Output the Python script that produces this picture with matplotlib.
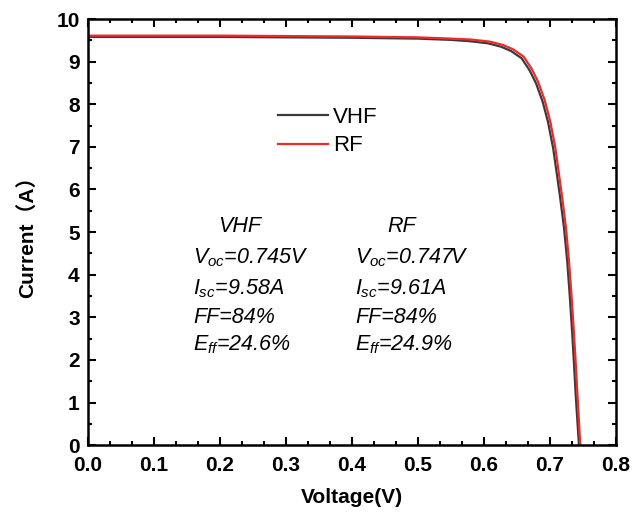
import matplotlib
matplotlib.use("Agg")
import matplotlib.pyplot as plt
from matplotlib.ticker import MultipleLocator, AutoMinorLocator, FormatStrFormatter

plt.rcParams['font.family'] = ['Liberation Sans', 'Noto Sans CJK SC', 'DejaVu Sans']
plt.rcParams['mathtext.fontset'] = 'custom'
plt.rcParams['mathtext.it'] = 'Liberation Sans:italic'
plt.rcParams['mathtext.rm'] = 'Liberation Sans:italic'

# Data
v_vhf = [0.0, 0.1, 0.2, 0.3, 0.4, 0.5, 0.55, 0.578, 0.606, 0.626, 0.641, 0.657, 0.669,
         0.679, 0.689, 0.697, 0.705, 0.715, 0.7215, 0.7263, 0.730, 0.7333, 0.7363, 0.7391, 0.744]
i_vhf = [9.58, 9.58, 9.58, 9.57, 9.56, 9.54, 9.51, 9.48, 9.43, 9.35, 9.25, 9.08, 8.80,
         8.49, 8.06, 7.59, 6.96, 5.87, 5.08, 4.30, 3.52, 2.74, 1.96, 1.17, 0.0]
v_rf = [0.0, 0.1, 0.2, 0.3, 0.4, 0.5, 0.55, 0.579, 0.609, 0.629, 0.644, 0.660, 0.672,
        0.682, 0.692, 0.700, 0.708, 0.7177, 0.7242, 0.7288, 0.7325, 0.7358, 0.7388, 0.7416, 0.746]
i_rf = [9.61, 9.61, 9.61, 9.60, 9.59, 9.57, 9.54, 9.52, 9.47, 9.39, 9.29, 9.12, 8.84,
        8.53, 8.10, 7.63, 7.00, 5.91, 5.12, 4.34, 3.56, 2.78, 2.00, 1.21, 0.0]

series_names = ["VHF", "RF"]
series_colors = ["#3a3a3a", "#ee2a2a"]

vhf_text = ["VHF", r"$V_{oc}$=0.745V", r"$I_{sc}$=9.58A", "FF=84%", r"$E_{ff}$=24.6%"]
rf_text = ["RF", r"$V_{oc}$=0.747V", r"$I_{sc}$=9.61A", "FF=84%", r"$E_{ff}$=24.9%"]

fig = plt.figure(figsize=(6.33, 5.14), dpi=100)
ax = fig.add_axes([0.139, 0.134, 0.834, 0.829])

ax.plot(v_vhf, i_vhf, color=series_colors[0], lw=1.6, label=series_names[0],
        solid_joinstyle='round')
ax.plot(v_rf, i_rf, color=series_colors[1], lw=1.6, label=series_names[1],
        solid_joinstyle='round')

ax.set_xlim(0, 0.8)
ax.set_ylim(0, 10)
ax.xaxis.set_major_locator(MultipleLocator(0.1))
ax.xaxis.set_minor_locator(AutoMinorLocator(3))
ax.yaxis.set_major_locator(MultipleLocator(1))
ax.yaxis.set_minor_locator(AutoMinorLocator(2))
ax.xaxis.set_major_formatter(FormatStrFormatter('%.1f'))
ax.yaxis.set_major_formatter(FormatStrFormatter('%d'))
ax.tick_params(which='both', direction='in', top=True, right=True, width=1.5)
ax.tick_params(which='major', length=6, labelsize=15)
ax.tick_params(axis='x', which='major', pad=8)
ax.tick_params(axis='y', which='major', pad=6)
ax.tick_params(which='minor', length=3)
for lab in ax.get_xticklabels() + ax.get_yticklabels():
    lab.set_fontweight('bold')
for s in ax.spines.values():
    s.set_linewidth(1.8)

ax.set_xlabel("Voltage(V)", fontsize=15, fontweight='bold', labelpad=9)
ax.set_ylabel("Current（A）", fontsize=15, fontweight='bold', labelpad=14)

leg = ax.legend(loc='upper left', bbox_to_anchor=(0.343, 0.815), frameon=False,
                fontsize=16, handlelength=2.25, handletextpad=0.23, labelspacing=0.34,
                borderaxespad=0)

ys = [5.12, 4.41, 3.67, 3.0, 2.36]
for k, (t, y) in enumerate(zip(vhf_text, ys)):
    if k == 0:
        ax.text(0.230, y, t, fontsize=15.5, style='italic', ha='center', va='center')
    else:
        ax.text(0.159, y, t, fontsize=15.5, style='italic', ha='left', va='center')
for k, (t, y) in enumerate(zip(rf_text, ys)):
    if k == 0:
        ax.text(0.476, y, t, fontsize=15.5, style='italic', ha='center', va='center')
    else:
        ax.text(0.405, y, t, fontsize=15.5, style='italic', ha='left', va='center')

fig.savefig("out.png", dpi=100)
